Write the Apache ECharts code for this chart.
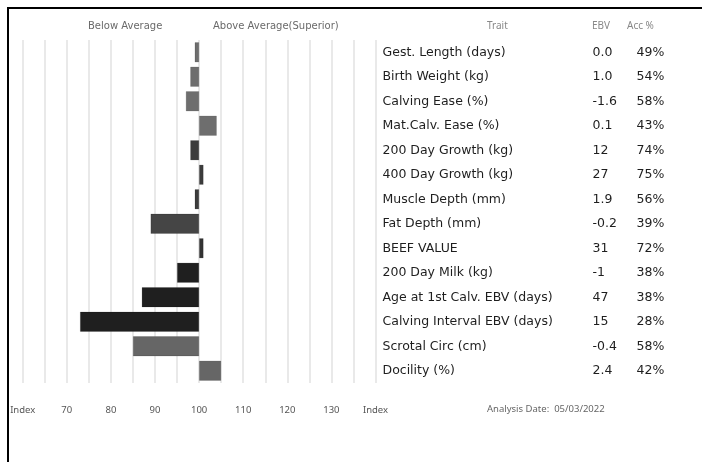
<!DOCTYPE html>
<html>
<head>
<meta charset="utf-8">
<script src="https://cdn.jsdelivr.net/npm/echarts@6/dist/echarts.min.js"></script>
<style>
  html, body { margin: 0; padding: 0; background: #fff; }
  #chart { width: 702px; height: 462px; }
</style>
</head>
<body>
<div id="chart"></div>
<script>
// traits, top to bottom
var traits = ['Gest. Length (days)', 'Birth Weight (kg)', 'Calving Ease (%)', 'Mat.Calv. Ease (%)',
    '200 Day Growth (kg)', '400 Day Growth (kg)', 'Muscle Depth (mm)', 'Fat Depth (mm)',
    'BEEF VALUE', '200 Day Milk (kg)', 'Age at 1st Calv. EBV (days)', 'Calving Interval EBV (days)',
    'Scrotal Circ (cm)', 'Docility (%)']
var ebv = ['0.0', '1.0', '-1.6', '0.1', '12', '27', '1.9', '-0.2', '31', '-1', '47', '15', '-0.4', '2.4']
var acc = ['49%', '54%', '58%', '43%', '74%', '75%', '56%', '39%', '72%', '38%', '38%', '28%', '58%', '42%']
// index (100 = average)
var indexValues = [99, 98, 97, 104, 98, 101, 99, 89, 101, 95, 87, 73, 85, 105]
var indexTicks = [60, 70, 80, 90, 100, 110, 120, 130, 140]
var indexTickLabels = ['Index', '70', '80', '90', '100', '110', '120', '130', 'Index']

var barColors = ['#6e6e6e', '#6e6e6e', '#6e6e6e', '#6e6e6e', '#3c3c3c', '#3c3c3c', '#3c3c3c',
    '#454545', '#333333', '#1f1f1f', '#1f1f1f', '#1f1f1f', '#666666', '#666666']

var chart = echarts.init(document.getElementById('chart'))

var baseData = indexValues.map(function (v) { return Math.min(v, 100) })
var spanData = indexValues.map(function (v, i) {
    return {
        value: Math.abs(v - 100),
        itemStyle: { color: barColors[i], borderColor: 'rgba(0,0,0,0.25)', borderWidth: 0.6 }
    }
})

var txt = { fontFamily: 'DejaVu Sans', fontSize: 12.5, color: '#1e1e1e' }

var option = {
    animation: false,
    grid: { left: 22.7, right: 326.5, top: 40, bottom: 79 },
    xAxis: {
        type: 'value',
        min: 60,
        max: 140,
        interval: 5,
        axisLine: { show: false },
        axisTick: { show: false },
        splitLine: { lineStyle: { color: '#e2e2e2', width: 1.5 } },
        axisLabel: {
            margin: 22,
            color: '#555',
            fontFamily: 'Noto Sans',
            fontSize: 9.5,
            formatter: function (v) {
                var k = indexTicks.indexOf(v)
                return k >= 0 ? indexTickLabels[k] : ''
            }
        }
    },
    yAxis: {
        type: 'category',
        data: traits,
        inverse: true,
        position: 'right',
        axisLine: { show: false },
        axisTick: { show: false },
        splitLine: { show: false },
        axisLabel: {
            margin: 7,
            formatter: function (val, idx) {
                return '{t|' + val + '}{e|' + ebv[idx] + '}{a|' + acc[idx] + '}'
            },
            rich: {
                t: Object.assign({ width: 210 }, txt),
                e: Object.assign({ width: 44 }, txt),
                a: Object.assign({}, txt)
            }
        }
    },
    series: [
        {
            type: 'bar',
            stack: 'idx',
            data: baseData,
            barWidth: 20,
            itemStyle: { color: 'transparent' },
            silent: true
        },
        {
            type: 'bar',
            stack: 'idx',
            data: spanData,
            barWidth: 20
        }
    ],
    graphic: [
        { type: 'line', shape: { x1: 8, y1: 8, x2: 702, y2: 8 }, style: { stroke: '#000', lineWidth: 2 } },
        { type: 'line', shape: { x1: 8, y1: 7, x2: 8, y2: 462 }, style: { stroke: '#000', lineWidth: 2 } },
        { type: 'text', left: 88, top: 21, style: { text: 'Below Average', fill: '#6a6a6a', font: '10px DejaVu Sans' } },
        { type: 'text', left: 213, top: 21, style: { text: 'Above Average(Superior)', fill: '#6a6a6a', font: '10px DejaVu Sans' } },
        { type: 'text', left: 487, top: 21, style: { text: 'Trait', fill: '#888', font: '10px Noto Sans' } },
        { type: 'text', left: 592, top: 21, style: { text: 'EBV', fill: '#888', font: '10px Noto Sans' } },
        { type: 'text', left: 627, top: 21, style: { text: 'Acc %', fill: '#888', font: '10px Noto Sans' } },
        { type: 'text', left: 487, top: 404, style: { text: 'Analysis Date:  05/03/2022', fill: '#666', font: '9.5px Noto Sans' } }
    ]
}

chart.setOption(option)
</script>
</body>
</html>
